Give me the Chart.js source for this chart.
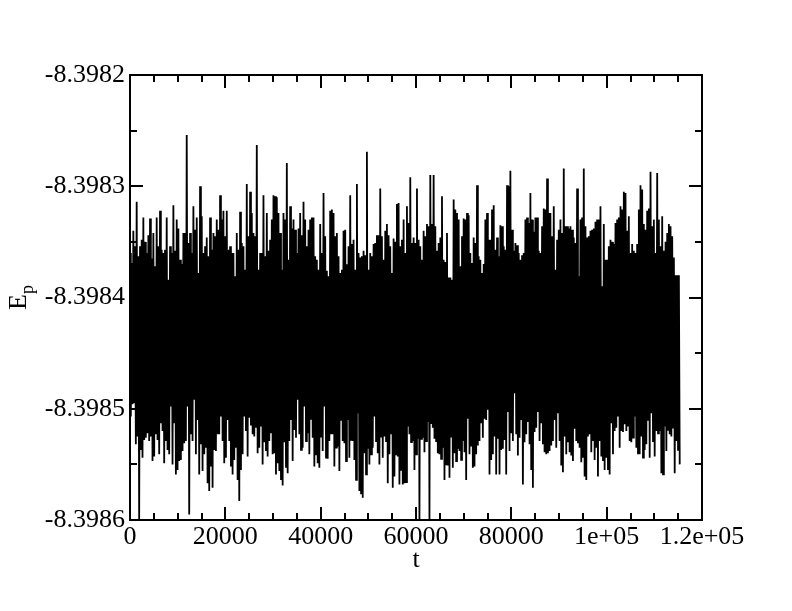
<!DOCTYPE html>
<html>
<head>
<meta charset="utf-8">
<title>Ep vs t</title>
<script src="https://cdn.jsdelivr.net/npm/chart.js@4/dist/chart.umd.min.js"></script>
<style>
  body { margin: 0; background: #fff; }
  canvas { display: block; }
</style>
</head>
<body>
<canvas id="grafEp" width="792" height="611"></canvas>
<script>
// time step between two readings of the curve
var dt = 700;

// tallest upper spike in each step
var epAlto = [
  -8.398360,-8.398340,-8.398314,-8.398354,-8.398328,-8.398360,-8.398329,-8.398342,-8.398328,-8.398322,
  -8.398360,-8.398328,-8.398354,-8.398317,-8.398330,-8.398366,-8.398342,-8.398254,-8.398342,-8.398318,
  -8.398328,-8.398300,-8.398360,-8.398346,-8.398328,-8.398342,-8.398330,-8.398308,
  -8.398322,-8.398322,-8.398354,-8.398360,-8.398342,-8.398323,-8.398354,-8.398298,-8.398305,-8.398342,
  -8.398263,-8.398360,-8.398308,-8.398324,-8.398348,-8.398308,-8.398310,-8.398342,-8.398324,-8.398279,
  -8.398318,-8.398330,-8.398360,-8.398324,-8.398314,-8.398354,-8.398330,-8.398328,
  -8.398366,-8.398334,-8.398306,-8.398376,-8.398322,-8.398324,-8.398342,-8.398378,-8.398340,-8.398370,
  -8.398308,-8.398348,-8.398298,-8.398364,-8.398358,-8.398269,-8.398360,-8.398352,-8.398344,-8.398302,
  -8.398366,-8.398334,-8.398354,-8.398347,-8.398316,-8.398354,-8.398330,-8.398318,
  -8.398292,-8.398346,-8.398302,-8.398354,-8.398340,-8.398334,-8.398290,-8.398290,-8.398358,-8.398346,
  -8.398366,-8.398342,-8.398382,-8.398312,-8.398324,-8.398372,-8.398329,-8.398324,-8.398360,-8.398346,
  -8.398299,-8.398366,-8.398370,-8.398324,-8.398348,-8.398317,-8.398346,
  -8.398335,-8.398354,-8.398299,-8.398286,-8.398358,-8.398353,-8.398366,-8.398360,-8.398328,-8.398306,
  -8.398341,-8.398328,-8.398360,-8.398320,-8.398293,-8.398324,-8.398318,-8.398348,-8.398330,-8.398284,
  -8.398336,-8.398336,-8.398346,-8.398302,-8.398330,-8.398284,-8.398346,-8.398340,
  -8.398338,-8.398330,-8.398318,-8.398334,-8.398366,-8.398348,-8.398352,-8.398330,-8.398318,-8.398305,
  -8.398340,-8.398360,-8.398358,-8.398352,-8.398299,-8.398334,-8.398322,-8.398287,-8.398330,-8.398288,
  -8.398354,-8.398358,-8.398342,-8.398336,-8.398364,-8.398380
];

// deepest lower spike in each step
var epBaixo = [
  -8.398496,-8.398532,-8.398599,-8.398544,-8.398526,-8.398529,-8.398547,-8.398523,-8.398541,-8.398520,
  -8.398529,-8.398541,-8.398550,-8.398559,-8.398547,-8.398538,-8.398529,-8.398595,-8.398529,-8.398541,
  -8.398559,-8.398556,-8.398535,-8.398574,-8.398571,-8.398538,-8.398523,-8.398529,
  -8.398544,-8.398529,-8.398559,-8.398535,-8.398583,-8.398541,-8.398520,-8.398508,-8.398523,-8.398517,
  -8.398535,-8.398550,-8.398538,-8.398529,-8.398541,-8.398559,-8.398556,-8.398569,-8.398553,-8.398529,
  -8.398547,-8.398526,-8.398523,-8.398535,-8.398529,-8.398541,-8.398526,-8.398541,
  -8.398553,-8.398538,-8.398544,-8.398529,-8.398523,-8.398535,-8.398556,-8.398529,-8.398547,-8.398544,
  -8.398529,-8.398564,-8.398574,-8.398580,-8.398559,-8.398550,-8.398535,-8.398529,-8.398550,-8.398544,
  -8.398529,-8.398541,-8.398571,-8.398541,-8.398568,-8.398568,-8.398566,-8.398523,
  -8.398529,-8.398541,-8.398599,-8.398526,-8.398529,-8.398599,-8.398517,-8.398529,-8.398541,-8.398535,
  -8.398550,-8.398562,-8.398553,-8.398547,-8.398538,-8.398529,-8.398564,-8.398541,-8.398553,-8.398541,
  -8.398529,-8.398526,-8.398510,-8.398559,-8.398541,-8.398559,-8.398559,
  -8.398536,-8.398559,-8.398538,-8.398529,-8.398523,-8.398526,-8.398568,-8.398523,-8.398532,-8.398571,
  -8.398517,-8.398529,-8.398532,-8.398541,-8.398538,-8.398529,-8.398535,-8.398529,-8.398557,-8.398541,
  -8.398539,-8.398547,-8.398529,-8.398535,-8.398544,-8.398564,-8.398523,-8.398529,
  -8.398535,-8.398529,-8.398547,-8.398544,-8.398559,-8.398541,-8.398517,-8.398535,-8.398521,-8.398520,
  -8.398529,-8.398526,-8.398535,-8.398541,-8.398544,-8.398532,-8.398544,-8.398529,-8.398520,-8.398520,
  -8.398559,-8.398538,-8.398523,-8.398517,-8.398529,-8.398550
];

// upper edge of the dense part in each step
var epOmbroAlto = [
  -8.398369,-8.398354,-8.398363,-8.398348,-8.398350,-8.398344,-8.398365,-8.398372,-8.398354,-8.398357,
  -8.398357,-8.398384,-8.398360,-8.398358,-8.398338,-8.398370,-8.398342,-8.398351,-8.398360,-8.398339,
  -8.398378,-8.398327,-8.398354,-8.398363,-8.398357,-8.398345,-8.398339,-8.398330,-8.398345,-8.398357,
  -8.398360,-8.398381,-8.398357,-8.398351,-8.398375,-8.398345,-8.398324,-8.398345,-8.398375,-8.398360,
  -8.398363,-8.398358,-8.398330,-8.398309,-8.398324,-8.398375,-8.398330,-8.398366,-8.398338,-8.398339,
  -8.398338,-8.398344,-8.398330,-8.398339,-8.398328,-8.398363,-8.398375,-8.398360,-8.398345,-8.398381,
  -8.398321,-8.398345,-8.398363,-8.398375,-8.398339,-8.398354,-8.398352,-8.398375,-8.398360,-8.398363,
  -8.398362,-8.398375,-8.398363,-8.398351,-8.398344,-8.398345,-8.398340,-8.398344,-8.398378,-8.398350,
  -8.398315,-8.398348,-8.398360,-8.398333,
  -8.398351,-8.398351,-8.398348,-8.398366,-8.398345,-8.398336,-8.398334,-8.398336,-8.398351,-8.398309,
  -8.398368,-8.398382,-8.398384,-8.398321,-8.398330,-8.398345,-8.398330,-8.398326,-8.398369,-8.398351,
  -8.398363,-8.398378,-8.398330,-8.398348,-8.398321,-8.398357,-8.398363,-8.398336,-8.398357,-8.398300,
  -8.398339,-8.398351,-8.398360,-8.398362,-8.398330,-8.398333,-8.398330,-8.398328,-8.398358,-8.398336,
  -8.398321,-8.398324,-8.398345,-8.398375,-8.398339,-8.398342,-8.398336,-8.398338,-8.398339,-8.398351,
  -8.398381,-8.398328,-8.398336,-8.398345,-8.398339,-8.398332,-8.398330,-8.398390,-8.398366,-8.398354,
  -8.398350,-8.398333,-8.398328,-8.398321,-8.398306,-8.398327,-8.398352,-8.398360,-8.398321,-8.398303,
  -8.398339,-8.398320,-8.398336,-8.398360,-8.398330,-8.398327,-8.398350,-8.398334,-8.398345,-8.398380,
  -8.398380
];

// lower edge of the dense part in each step
var epOmbroBaixo = [
  -8.398507,-8.398495,-8.398525,-8.398537,-8.398528,-8.398522,-8.398525,-8.398543,-8.398528,-8.398513,
  -8.398549,-8.398537,-8.398498,-8.398513,-8.398555,-8.398546,-8.398531,-8.398498,-8.398523,-8.398492,
  -8.398510,-8.398532,-8.398541,-8.398567,-8.398552,-8.398537,-8.398523,-8.398507,-8.398549,-8.398510,
  -8.398552,-8.398546,-8.398564,-8.398555,-8.398507,-8.398543,-8.398515,-8.398525,-8.398540,-8.398516,
  -8.398530,-8.398543,-8.398522,-8.398540,-8.398549,-8.398564,-8.398530,-8.398558,-8.398510,-8.398519,
  -8.398492,-8.398537,-8.398498,-8.398522,-8.398509,-8.398552,-8.398549,-8.398525,-8.398498,-8.398545,
  -8.398522,-8.398552,-8.398534,-8.398510,-8.398531,-8.398510,-8.398528,-8.398546,-8.398504,-8.398576,
  -8.398540,-8.398536,-8.398541,-8.398507,-8.398540,-8.398525,-8.398525,-8.398567,-8.398522,-8.398561,
  -8.398543,-8.398555,-8.398567,-8.398516,
  -8.398530,-8.398555,-8.398527,-8.398527,-8.398539,-8.398512,-8.398513,-8.398527,-8.398540,-8.398545,
  -8.398564,-8.398551,-8.398525,-8.398540,-8.398536,-8.398546,-8.398539,-8.398509,-8.398534,-8.398552,
  -8.398533,-8.398513,-8.398509,-8.398501,-8.398546,-8.398525,-8.398527,-8.398537,-8.398528,-8.398503,
  -8.398522,-8.398486,-8.398542,-8.398510,-8.398530,-8.398512,-8.398555,-8.398521,-8.398503,-8.398513,
  -8.398539,-8.398540,-8.398533,-8.398510,-8.398504,-8.398551,-8.398525,-8.398530,-8.398542,-8.398518,
  -8.398531,-8.398548,-8.398561,-8.398525,-8.398539,-8.398546,-8.398561,-8.398543,-8.398555,-8.398555,
  -8.398513,-8.398520,-8.398507,-8.398520,-8.398514,-8.398516,-8.398530,-8.398507,-8.398540,-8.398525,
  -8.398537,-8.398510,-8.398504,-8.398543,-8.398522,-8.398558,-8.398516,-8.398519,-8.398525,-8.398558,
  -8.398537
];

// axes
var xTicks = [0, 20000, 40000, 60000, 80000, 100000, 120000];
var xLabels = ["0", "20000", "40000", "60000", "80000", "1e+05", "1.2e+05"];
var yTicks = [-8.3986, -8.3985, -8.3984, -8.3983, -8.3982];

/* monta a serie: quatro leituras por passo */
var serie = [];
for (var i = 0; i < epAlto.length; i++) {
  serie.push({x: i * dt, y: epAlto[i]});
  serie.push({x: i * dt + dt / 4, y: epOmbroBaixo[i]});
  serie.push({x: i * dt + dt / 2, y: epOmbroAlto[i]});
  serie.push({x: i * dt + 3 * dt / 4, y: epBaixo[i]});
}

var fonte = "Liberation Serif, Times New Roman, serif";

// moldura + ticks para dentro (estilo xmgrace) + titulos
var moldura = {
  id: "moldura",
  afterDatasetsDraw: function (chart) {
    var ctx = chart.ctx, a = chart.chartArea;
    var sx = chart.scales.x, sy = chart.scales.y;
    ctx.save();
    ctx.strokeStyle = "#000";
    ctx.lineWidth = 2;
    ctx.strokeRect(a.left, a.top, a.right - a.left, a.bottom - a.top);
    ctx.beginPath();
    for (var v = 0; v <= 120000; v += 5000) {
      var px = Math.round(sx.getPixelForValue(v));
      var len = (v % 20000 === 0) ? 13 : 7;
      ctx.moveTo(px, a.bottom); ctx.lineTo(px, a.bottom - len);
      ctx.moveTo(px, a.top); ctx.lineTo(px, a.top + len);
    }
    for (var k = 0; k <= 8; k++) {
      var val = yTicks[0] + k * 0.00005;
      var py = Math.round(sy.getPixelForValue(val));
      var l2 = (k % 2 === 0) ? 13 : 7;
      ctx.moveTo(a.left, py); ctx.lineTo(a.left + l2, py);
      ctx.moveTo(a.right, py); ctx.lineTo(a.right - l2, py);
    }
    ctx.stroke();

    ctx.fillStyle = "#000";
    ctx.font = "26px " + fonte;
    ctx.textAlign = "center";
    ctx.textBaseline = "middle";
    ctx.fillText("t", (a.left + a.right) / 2, 560);

    ctx.translate(19, (a.top + a.bottom) / 2);
    ctx.rotate(-Math.PI / 2);
    ctx.textAlign = "left";
    var wE = ctx.measureText("E").width;
    ctx.font = "18px " + fonte;
    var wp = ctx.measureText("p").width;
    var x0 = -(wE + wp) / 2;
    ctx.font = "26px " + fonte;
    ctx.fillText("E", x0, 0);
    ctx.font = "18px " + fonte;
    ctx.fillText("p", x0 + wE, 9);
    ctx.restore();
  }
};

var grafico = new Chart(document.getElementById("grafEp"), {
  type: "line",
  data: {
    datasets: [
      { data: serie, borderWidth: 1.8, borderColor: "#000", pointRadius: 0, fill: false, tension: 0 }
    ]
  },
  options: {
    responsive: false,
    animation: false,
    events: [],
    layout: { padding: { top: 75, right: 90, left: 0, bottom: 0 } },
    plugins: { legend: { display: false }, tooltip: { enabled: false } },
    scales: {
      x: {
        type: "linear", min: 0, max: 120000,
        afterBuildTicks: function (s) { s.ticks = xTicks.map(function (v) { return {value: v}; }); },
        afterFit: function (s) { s.height = 91; },
        grid: { display: false, drawTicks: false },
        border: { display: false },
        ticks: {
          color: "#000", padding: 2, maxRotation: 0, autoSkip: false,
          font: { family: fonte, size: 26 },
          callback: function (v) { return xLabels[xTicks.indexOf(v)]; }
        }
      },
      y: {
        type: "linear", min: -8.3986, max: -8.3982,
        afterBuildTicks: function (s) { s.ticks = yTicks.map(function (v) { return {value: v}; }); },
        afterFit: function (s) { s.width = 130; },
        grid: { display: false, drawTicks: false },
        border: { display: false },
        ticks: {
          color: "#000", padding: 5, autoSkip: false,
          font: { family: fonte, size: 26 },
          callback: function (v) { return v.toFixed(4); }
        }
      }
    }
  },
  plugins: [moldura]
});
</script>
</body>
</html>
